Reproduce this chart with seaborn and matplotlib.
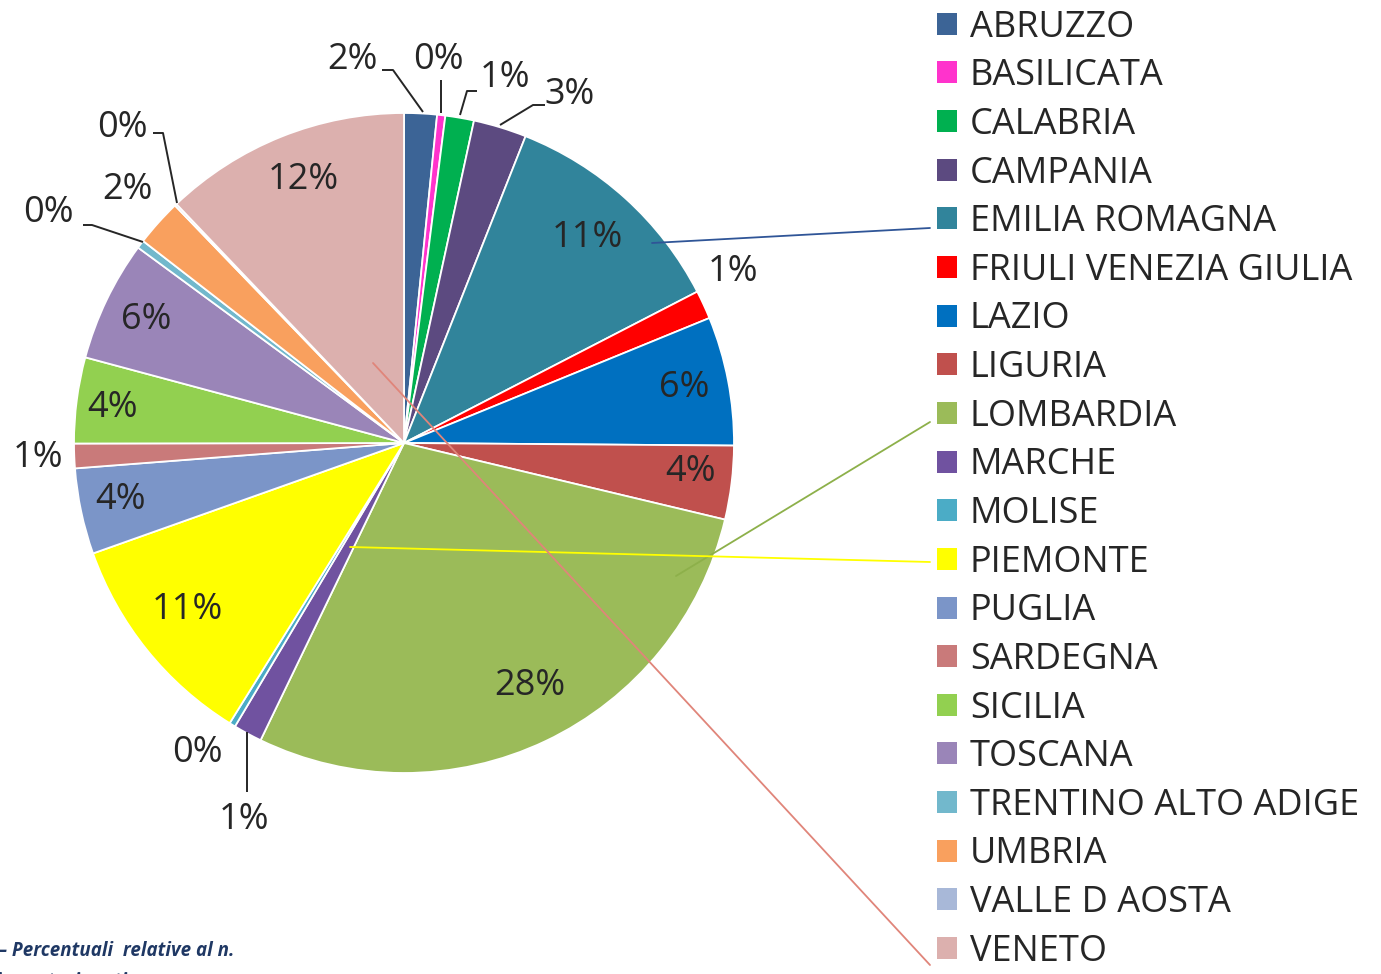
import numpy as np
import matplotlib
matplotlib.use("Agg")
import matplotlib.pyplot as plt
from matplotlib.lines import Line2D
import seaborn as sns

# ---------------- data ----------------
regions = ["ABRUZZO", "BASILICATA", "CALABRIA", "CAMPANIA", "EMILIA ROMAGNA",
           "FRIULI VENEZIA GIULIA", "LAZIO", "LIGURIA", "LOMBARDIA", "MARCHE",
           "MOLISE", "PIEMONTE", "PUGLIA", "SARDEGNA", "SICILIA", "TOSCANA",
           "TRENTINO ALTO ADIGE", "UMBRIA", "VALLE D AOSTA", "VENETO"]
shares = [1.6, 0.4, 1.4, 2.6, 11.4, 1.4, 6.3, 3.6, 28.4, 1.4,
          0.3, 10.7, 4.2, 1.2, 4.2, 5.9, 0.4, 2.3, 0.1, 12.1]
colors = ["#3c6496", "#ff33cc", "#00b050", "#5c4a80", "#31849b",
          "#ff0000", "#0070c0", "#c0504d", "#9bbb59", "#7052a0",
          "#4bacc6", "#ffff00", "#7b95c8", "#c97a7a", "#92d050",
          "#9a85b8", "#72b8cc", "#f9a05e", "#a8b8d8", "#dcb0ae"]
caption = "– Percentuali  relative al n."
caption2 = "ie partecipanti"

# ---------------- layout (pixels of the 1381x974 canvas) ----------------
W, H = 1381, 974
CX, CY, R = 404, 443, 330

label_pos = {
    "ABRUZZO": (352, 60), "BASILICATA": (438, 60), "CALABRIA": (505, 78),
    "CAMPANIA": (570, 95), "EMILIA ROMAGNA": (587, 238),
    "FRIULI VENEZIA GIULIA": (733, 272), "LAZIO": (684, 388),
    "LIGURIA": (691, 472), "LOMBARDIA": (530, 686), "MARCHE": (244, 820),
    "MOLISE": (197, 753), "PIEMONTE": (187, 610), "PUGLIA": (120, 500),
    "SARDEGNA": (38, 458), "SICILIA": (113, 408), "TOSCANA": (146, 320),
    "TRENTINO ALTO ADIGE": (48, 213), "UMBRIA": (127, 190),
    "VALLE D AOSTA": (122, 128), "VENETO": (303, 180),
}
leaders = {
    "ABRUZZO": [(382, 70), (393, 70), (423, 112)],
    "BASILICATA": [(441, 80), (441, 113)],
    "CALABRIA": [(477, 91), (467, 91), (460, 115)],
    "CAMPANIA": [(545, 105), (533, 105), (500, 125)],
    "MARCHE": [(247, 792), (247, 732)],
    "TRENTINO ALTO ADIGE": [(83, 225), (92, 225), (143, 242)],
    "VALLE D AOSTA": [(153, 133), (163, 133), (177, 203)],
}
legend_links = {
    "EMILIA ROMAGNA": ("#2f5597", (930, 228), (652, 243)),
    "LOMBARDIA": ("#8db04a", (930, 422), (676, 576)),
    "PIEMONTE": ("#ffff00", (930, 562), (350, 547)),
    "VENETO": ("#e0857a", (930, 965), (373, 363)),
}


def to_data(p):
    return ((p[0] - CX) / R, (CY - p[1]) / R)


def to_fig(p):
    return (p[0] / W, 1 - p[1] / H)


sns.set_theme(style="white")
plt.rcParams["font.family"] = ["Open Sans", "DejaVu Sans"]

fig = plt.figure(figsize=(W / 100, H / 100), dpi=100)
fig.patch.set_facecolor("white")
ax = fig.add_axes([(CX - R) / W, (H - CY - R) / H, 2 * R / W, 2 * R / H])
ax.axis("off")

wedges, _ = ax.pie(shares, colors=colors, startangle=90, counterclock=False,
                   radius=1.0, center=(0, 0),
                   wedgeprops=dict(edgecolor="white", linewidth=1.3))
ax.set_xlim(-1, 1)
ax.set_ylim(-1, 1)
ax.set_aspect("equal")

total = sum(shares)
for reg, val in zip(regions, shares):
    pct = int(round(val / total * 100))
    x, y = to_data(label_pos[reg])
    ax.text(x, y, f"{pct}%", ha="center", va="center", fontsize=26,
            color="#262626", clip_on=False)
    if reg in leaders:
        pts = [to_data(p) for p in leaders[reg]]
        ax.plot([p[0] for p in pts], [p[1] for p in pts], color="#262626",
                lw=1.4, clip_on=False, solid_capstyle="butt")

# legend
leg = fig.legend(wedges, regions, loc="upper left",
                 bbox_to_anchor=(933 / W, 1 - 6 / H), frameon=False,
                 fontsize=26, handlelength=0.56, handleheight=0.56,
                 handletextpad=0.36, labelspacing=0.35, borderaxespad=0,
                 borderpad=0.1)
for t in leg.get_texts():
    t.set_color("#262626")
for h in leg.legend_handles:
    h.set_edgecolor("none")

# stray link lines from legend to slices
for reg, (c, p0, p1) in legend_links.items():
    f0, f1 = to_fig(p0), to_fig(p1)
    fig.add_artist(Line2D([f0[0], f1[0]], [f0[1], f1[1]], color=c, lw=1.3,
                          transform=fig.transFigure))

# caption (cut by the bottom edge, as in the source)
fig.text(-2 / W, 1 - 951 / H, caption, ha="left", va="center", fontsize=13.5,
         fontweight="bold", style="italic", color="#1f3864")
fig.text(-4 / W, 1 - 982 / H, caption2, ha="left", va="center", fontsize=13.5,
         fontweight="bold", style="italic", color="#1f3864")

fig.savefig("out.png", dpi=100, facecolor="white")
